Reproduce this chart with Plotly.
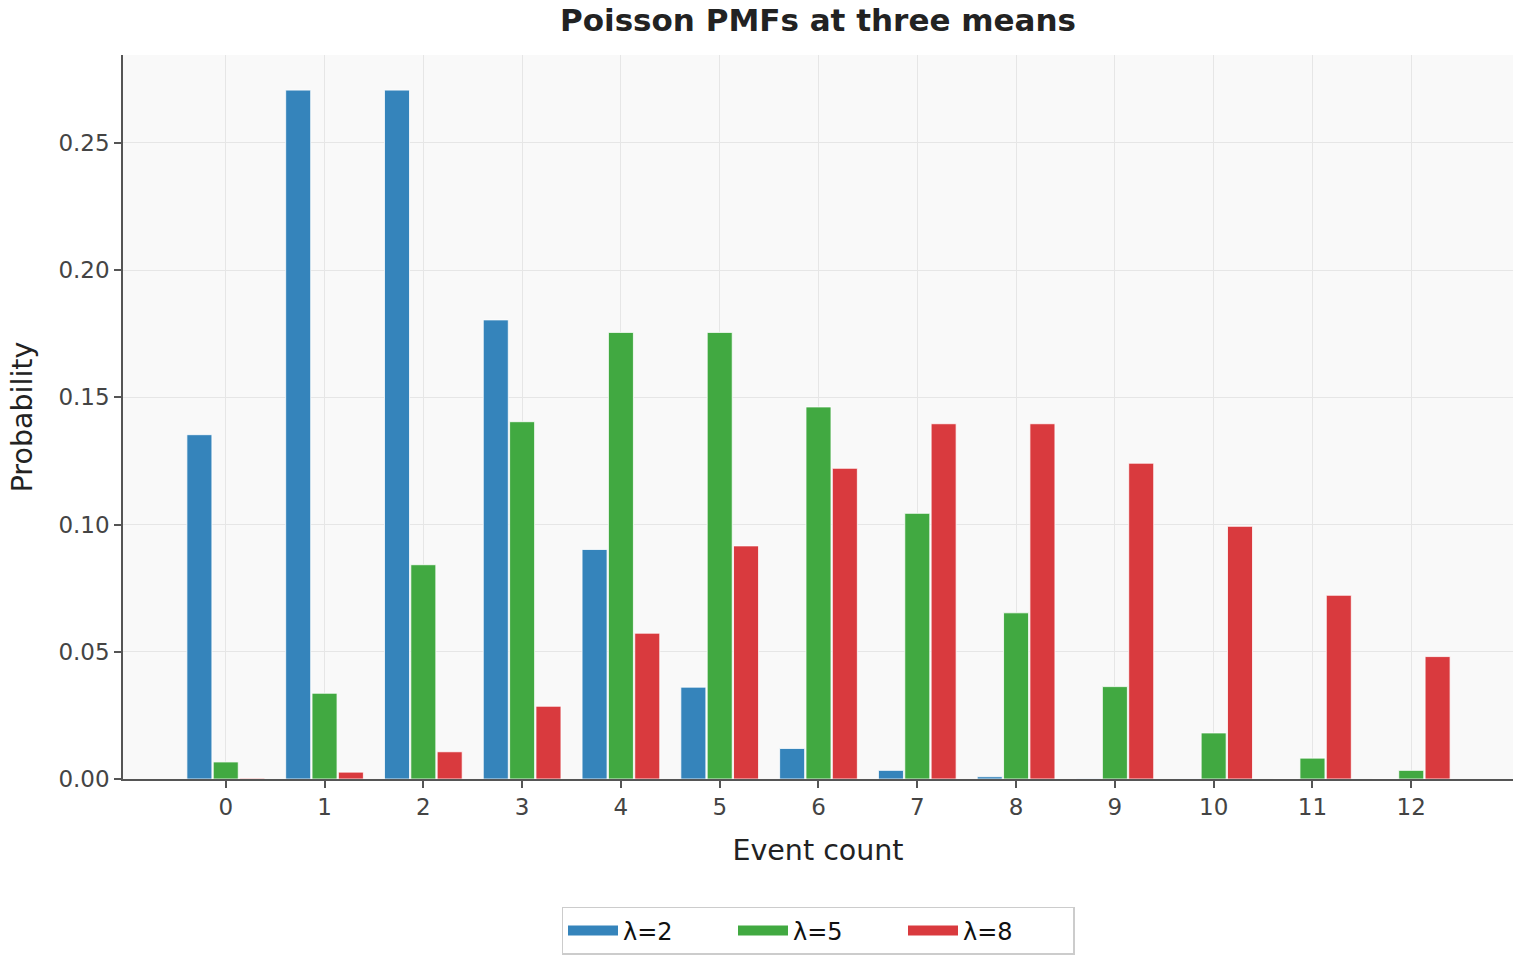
import plotly.graph_objects as go

counts = list(range(13))
tick_labels = [str(k) for k in counts]
pmf_l2 = [0.1353, 0.2707, 0.2707, 0.1804, 0.0902, 0.0361, 0.0120, 0.0034, 0.0009, 0.0002, 0.00004, 0.00001, 0.0]
pmf_l5 = [0.0067, 0.0337, 0.0842, 0.1404, 0.1755, 0.1755, 0.1462, 0.1044, 0.0653, 0.0363, 0.0181, 0.0082, 0.0034]
pmf_l8 = [0.0003, 0.0027, 0.0107, 0.0286, 0.0573, 0.0916, 0.1221, 0.1396, 0.1396, 0.1241, 0.0993, 0.0722, 0.0481]
series_names = ["λ=2", "λ=5", "λ=8"]
colors = ["#3584bb", "#41a941", "#d93a3e"]

fig = go.Figure()
for name, vals, col in zip(series_names, [pmf_l2, pmf_l5, pmf_l8], colors):
    fig.add_trace(go.Bar(
        x=counts, y=vals, name=name, legendgroup=name, showlegend=False,
        marker=dict(color=col, line=dict(color="rgba(255,255,255,0.8)", width=1)),
    ))
# legend-only entries drawn as wide patches
for name, col in zip(series_names, colors):
    fig.add_trace(go.Scatter(
        x=[None], y=[None], name=name, legendgroup=name, mode="lines",
        line=dict(color=col, width=14), showlegend=True, hoverinfo="skip",
    ))

font_family = "DejaVu Sans"
fig.update_layout(
    width=1520, height=960,
    margin=dict(l=123, r=7, t=55, b=180),
    paper_bgcolor="white",
    plot_bgcolor="#f9f9f9",
    barmode="group",
    bargap=0.2,
    bargroupgap=0.05,
    font=dict(family=font_family, size=23, color="#333333"),
    title=dict(text="<b>Poisson PMFs at three means</b>", x=0.5, xref="paper",
               y=0.979, yanchor="middle", font=dict(size=31, color="#222222")),
    showlegend=True,
    legend=dict(orientation="h", x=0.5, xanchor="center", y=-0.208, yanchor="middle",
                bordercolor="#cccccc", borderwidth=1.5, bgcolor="white",
                font=dict(size=24, color="#111111"), itemwidth=50,
                entrywidth=105, traceorder="normal"),
    xaxis=dict(
        title=dict(text="Event count", font=dict(size=28.5, color="#222222"), standoff=21),
        tickmode="array", tickvals=counts, ticktext=tick_labels,
        range=[-1.04, 13.03],
        showgrid=True, gridcolor="#e6e6e6", gridwidth=1,
        showline=True, linecolor="#555555", linewidth=1.5,
        ticks="outside", ticklen=7, tickwidth=1.5, tickcolor="#555555",
        tickfont=dict(size=23, color="#444444"),
        zeroline=False, mirror=False, automargin=False,
    ),
    yaxis=dict(
        title=dict(text="Probability", font=dict(size=28.5, color="#222222"), standoff=17),
        range=[0, 0.2845], tickformat=".2f", dtick=0.05, tick0=0,
        showgrid=True, gridcolor="#e6e6e6", gridwidth=1,
        showline=True, linecolor="#555555", linewidth=1.5,
        ticks="outside", ticklen=7, tickwidth=1.5, tickcolor="#555555",
        tickfont=dict(size=23, color="#444444"),
        zeroline=False, automargin=False,
    ),
)

fig.write_html("out.html")
